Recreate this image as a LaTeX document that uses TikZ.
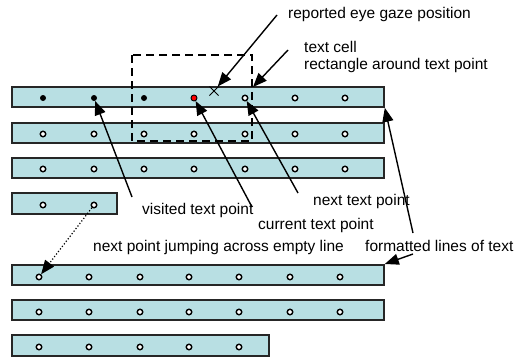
\documentclass[tikz,border=0pt]{standalone}
\usepackage{fontspec}
\setmainfont{Liberation Sans}
\usetikzlibrary{arrows.meta,shapes.misc}
\definecolor{rowfill}{RGB}{184,223,227}
\tikzset{
  rowbox/.style={draw=black!85, line width=1.8pt, fill=rowfill, anchor=north west, inner sep=0pt},
  hollow/.style={circle, draw=black, line width=1.4pt, fill=white, minimum size=5.5pt, inner sep=0pt},
  filled/.style={circle, fill=black, minimum size=6pt, inner sep=0pt},
  curdot/.style={circle, draw=black, line width=0.9pt, fill=red, minimum size=6pt, inner sep=0pt},
  lbl/.style={anchor=base west, inner sep=0pt, font=\fontsize{15.5}{17}\selectfont, align=left},
  pointer/.style={line width=1.4pt, -{Triangle[length=14pt,width=11pt]}},
  cellbox/.style={draw=black, line width=2pt, dash pattern=on 8pt off 5pt}
}
\begin{document}
\begin{tikzpicture}[x=1pt,y=-1pt]
\useasboundingbox (0,0) rectangle (528,359);
% rows
\node[rowbox, minimum width=372pt, minimum height=20pt] (r1) at (11,86) {};
\node[rowbox, minimum width=372pt, minimum height=20pt] (r2) at (11,122) {};
\node[rowbox, minimum width=372pt, minimum height=20pt] (r3) at (11,157) {};
\node[rowbox, minimum width=105pt, minimum height=21pt] (r4) at (11,192) {};
\node[rowbox, minimum width=372pt, minimum height=20pt] (r5) at (11,264) {};
\node[rowbox, minimum width=372pt, minimum height=20pt] (r6) at (11,299) {};
\node[rowbox, minimum width=257pt, minimum height=21pt] (r7) at (11,334) {};
% dots row 1
\node[filled] (d1-1) at (43,98) {};
\node[filled] (d1-2) at (94,98) {};
\node[filled] (d1-3) at (144,98) {};
\node[curdot] (d1-4) at (194,98) {};
\foreach \i/\x in {5/245,6/295,7/345} \node[hollow] (d1-\i) at (\x,98) {};
% rows 2,3
\foreach \i/\x in {1/43,2/94,3/144,4/194,5/245,6/295,7/345} {
  \node[hollow] (d2-\i) at (\x,134) {};
  \node[hollow] (d3-\i) at (\x,169) {};
}
% row 4
\node[hollow] (d4-1) at (43,205) {};
\node[hollow] (d4-2) at (94,205) {};
% rows 5,6,7
\foreach \i/\x in {1/39,2/89,3/140,4/189,5/239,6/290,7/340} {
  \node[hollow] (d5-\i) at (\x,277) {};
  \node[hollow] (d6-\i) at (\x,312) {};
}
\foreach \i/\x in {1/39,2/89,3/140,4/189,5/239} \node[hollow] (d7-\i) at (\x,347) {};
% text cell
\draw[cellbox] (132,55) rectangle (252,141);
% gaze mark
\node[cross out, draw=black, line width=1pt, minimum size=8pt, inner sep=0pt] (gaze) at (214,91) {};
% labels
\node[lbl] (lgaze) at (288,18) {reported eye gaze position};
\node[lbl] (lcell) at (304,69) {text cell\\rectangle around text point};
\node[lbl] (lvis) at (142,214) {visited text point};
\node[lbl] (lnext) at (313,205) {next text point};
\node[lbl] (lcur) at (258,229) {current text point};
\node[lbl] (ljump) at (93,251) {next point jumping across empty line};
\node[lbl] (lform) at (365,251) {formatted lines of text};
% arrow start points
\coordinate (sgaze) at (277,15);
\coordinate (scell) at (288,50);
\coordinate (tcell) at (253,87);
\coordinate (svis) at (132,197);
\coordinate (scur) at (252,207);
\coordinate (snext) at (298,193);
\coordinate (sform1) at (413,233);
\coordinate (sform2) at (413,254);
% arrows
\draw[pointer] (sgaze) -- (gaze);
\draw[pointer] (scell) -- (tcell);
\draw[pointer] (svis) -- (d1-2);
\draw[pointer] (scur) -- (d1-4);
\draw[pointer] (snext) -- (d1-5);
\draw[pointer] (sform1) -- (r1.south east);
\draw[pointer] (sform2) -- (r5.north east);
\draw[line width=1.2pt, dotted, -{Triangle[length=14pt,width=11pt]}] (d4-2) -- (d5-1);
\end{tikzpicture}
\end{document}
